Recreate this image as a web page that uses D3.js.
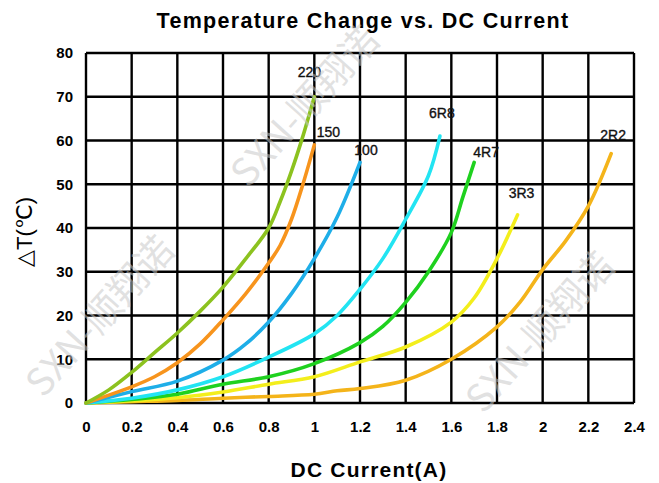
<!DOCTYPE html>
<html>
<head>
<meta charset="utf-8">
<script src="https://cdn.jsdelivr.net/npm/d3@7"></script>
<style>
  body { margin: 0; background: #fff; }
  svg { display: block; font-family: "Liberation Sans", Arial, sans-serif; }
</style>
</head>
<body>
<div id="chart"></div>
<script>
// tick labels
var xTicks = [0, 0.2, 0.4, 0.6, 0.8, 1, 1.2, 1.4, 1.6, 1.8, 2, 2.2, 2.4];
var yTicks = [0, 10, 20, 30, 40, 50, 60, 70, 80];

// series names and colours
var seriesNames = ["220", "150", "100", "6R8", "4R7", "3R3", "2R2"];
var seriesColors = ["#8cc21f", "#f7941d", "#1eaee8", "#22e4f2", "#1fd11f", "#f3ee1c", "#f4b41a"];

// series values [current A, deltaT]
var s220 = [[0,0],[0.1,3],[0.2,7],[0.3,11.5],[0.4,16],[0.5,21],[0.6,26.5],[0.7,33],[0.8,40],[0.85,46],[0.9,53],[0.95,61],[1.0,70]];
var s150 = [[0,0],[0.1,1.8],[0.2,3.7],[0.3,6],[0.4,9.2],[0.5,13.5],[0.6,19],[0.7,25],[0.8,32],[0.85,36],[0.9,42],[0.95,50],[1.0,59]];
var s100 = [[0,0],[0.2,2.6],[0.4,5],[0.6,9.8],[0.7,13.5],[0.8,18.5],[0.9,25],[1.0,33],[1.1,42.5],[1.2,55]];
var s6R8 = [[0,0],[0.2,1.1],[0.4,3],[0.6,6],[0.8,10.5],[1.0,15.8],[1.1,20],[1.2,26],[1.3,33],[1.4,42],[1.5,52],[1.55,61]];
var s4R7 = [[0,0],[0.2,0.8],[0.4,2],[0.6,4.3],[0.8,6],[1.0,9],[1.2,13.8],[1.3,17.5],[1.4,23],[1.5,30],[1.6,39],[1.65,47],[1.7,55]];
var s3R3 = [[0,0],[0.2,0.5],[0.4,1.2],[0.6,2.5],[0.8,4.3],[1.0,6],[1.2,9.4],[1.4,12.8],[1.6,18.5],[1.7,24],[1.8,33],[1.89,43]];
var s2R2 = [[0,0],[0.2,0.3],[0.4,0.6],[0.6,1.1],[0.8,1.5],[1.0,2],[1.1,2.8],[1.2,3.3],[1.4,5.2],[1.6,10],[1.8,17.4],[1.9,23],[2.0,30.5],[2.1,37],[2.2,45],[2.3,57]];
var seriesValues = [s220, s150, s100, s6R8, s4R7, s3R3, s2R2];

// label anchor offsets (px) from the curve end
var labelOffsets = [[-5,-20],[14,-8],[6,-7],[2,-18],[12,-5],[4,-17],[2,-14]];

var W = 659, H = 483;
var margin = {left: 86, right: 25, top: 53, bottom: 80};

var svg = d3.select("#chart").append("svg")
  .attr("width", W).attr("height", H);

var x = d3.scaleLinear().domain([0, 2.4]).range([margin.left, W - margin.right]);
var y = d3.scaleLinear().domain([0, 80]).range([H - margin.bottom, margin.top]);

// title
svg.append("text")
  .attr("x", 363).attr("y", 28)
  .attr("text-anchor", "middle")
  .style("font-size", "21.5px").style("font-weight", "bold")
  .style("letter-spacing", "1.3px")
  .text("Temperature Change vs. DC Current");

// grid
svg.append("g").selectAll("line.v").data(xTicks).enter().append("line")
  .attr("x1", function(d){return x(d);}).attr("x2", function(d){return x(d);})
  .attr("y1", y(0)).attr("y2", y(80))
  .style("stroke", "#000").style("stroke-width", 2.4);
svg.append("g").selectAll("line.h").data(yTicks).enter().append("line")
  .attr("x1", x(0)).attr("x2", x(2.4))
  .attr("y1", function(d){return y(d);}).attr("y2", function(d){return y(d);})
  .style("stroke", "#000").style("stroke-width", 2.4);

// axes (labels only)
var xAxis = svg.append("g")
  .attr("transform", "translate(0," + (y(0) + 15) + ")")
  .call(d3.axisBottom(x).tickValues(xTicks).tickSize(0).tickFormat(d3.format("")));
xAxis.select(".domain").remove();
xAxis.selectAll("text")
  .style("font-family", "Liberation Sans, Arial, sans-serif")
  .style("font-size", "15px").style("font-weight", "bold").attr("fill", "#000");

var yAxis = svg.append("g")
  .attr("transform", "translate(" + (x(0) - 10) + ",0)")
  .call(d3.axisLeft(y).tickValues(yTicks).tickSize(0));
yAxis.select(".domain").remove();
yAxis.selectAll("text")
  .style("font-family", "Liberation Sans, Arial, sans-serif")
  .style("font-size", "15px").style("font-weight", "bold").attr("fill", "#000");

// axis titles
svg.append("text")
  .attr("x", 369).attr("y", 477)
  .attr("text-anchor", "middle")
  .style("font-size", "21px").style("font-weight", "bold")
  .style("letter-spacing", "1.2px")
  .text("DC Current(A)");

svg.append("text")
  .attr("transform", "translate(32," + 232 + ") rotate(-90)")
  .attr("text-anchor", "middle")
  .style("font-size", "22px")
  .text("△T(℃)");

// curves
var line = d3.line()
  .x(function(d){return x(d[0]);})
  .y(function(d){return y(d[1]);})
  .curve(d3.curveCatmullRom.alpha(0.5));

// draw from lowest to highest so 220 ends on top
for (var k = seriesValues.length - 1; k >= 0; k--) {
  svg.append("path")
    .datum(seriesValues[k])
    .attr("d", line)
    .style("fill", "none")
    .style("stroke", seriesColors[k])
    .style("stroke-width", 3.6)
    .style("stroke-linecap", "round")
    .style("stroke-linejoin", "round");
}

// series labels
seriesNames.forEach(function(name, i){
  var last = seriesValues[i][seriesValues[i].length - 1];
  svg.append("text")
    .attr("x", x(last[0]) + labelOffsets[i][0])
    .attr("y", y(last[1]) + labelOffsets[i][1])
    .attr("text-anchor", "middle")
    .style("font-size", "14px")
    .style("fill", "#111")
    .style("stroke", "#111").style("stroke-width", 0.35)
    .text(name);
});

// watermarks
var marks = [[305, 106], [100, 316], [540, 332]];
marks.forEach(function(m){
  svg.append("text")
    .attr("transform", "translate(" + m[0] + "," + m[1] + ") rotate(-48)")
    .attr("text-anchor", "middle")
    .attr("dy", "0.35em")
    .style("font-family", "Noto Sans CJK SC, sans-serif")
    .style("font-size", "38px")
    .style("fill", "#c8c8c8")
    .style("fill-opacity", 0.55)
    .text("SXN-顺翔诺");
});
</script>
</body>
</html>
